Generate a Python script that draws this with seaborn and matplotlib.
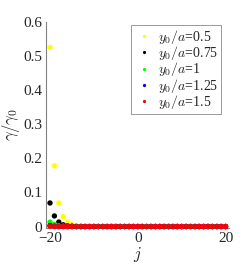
import matplotlib
matplotlib.use("Agg")
import matplotlib.pyplot as plt
import seaborn as sns
import pandas as pd

# data
j_values = list(range(-20, 21))
ratio_labels = ["0.5", "0.75", "1", "1.25", "1.5"]
colors = ["#ffff00", "#000000", "#00ff00", "#0000ff", "#ff0000"]

gamma_05 = [0.525, 0.178, 0.069, 0.029, 0.013, 0.006, 0.003, 0.001] + [0.0] * 33
gamma_075 = [0.069, 0.031, 0.013, 0.005, 0.002, 0.001] + [0.0] * 35
gamma_1 = [0.013, 0.006, 0.002, 0.001] + [0.0] * 37
gamma_125 = [0.003, 0.001] + [0.0] * 39
gamma_15 = [0.001] + [0.0] * 40

series = [gamma_05, gamma_075, gamma_1, gamma_125, gamma_15]

rows = []
for lab, vals in zip(ratio_labels, series):
    for j, g in zip(j_values, vals):
        rows.append({"j": j, "gamma": g, "ratio": r"$y_0/a$=" + lab})
df = pd.DataFrame(rows)

sns.set_style("white")
plt.rcParams["font.family"] = ["Liberation Serif", "DejaVu Serif"]
plt.rcParams["mathtext.fontset"] = "cm"

fig = plt.figure(figsize=(2.49, 2.70), dpi=100)
ax = fig.add_axes([0.185, 0.156, 0.735, 0.763])

sns.scatterplot(data=df, x="j", y="gamma", hue="ratio",
                palette=dict(zip(df["ratio"].unique(), colors)),
                s=15, linewidth=0, ax=ax, zorder=3, clip_on=False)

ax.set_xlim(-20.9, 20.8)
ax.set_ylim(-0.004, 0.6)
ax.set_xticks([-20, 0, 20])
ax.set_yticks([0, 0.1, 0.2, 0.3, 0.4, 0.5, 0.6])
ax.set_yticklabels(["0", "0.1", "0.2", "0.3", "0.4", "0.5", "0.6"])
ax.tick_params(direction="in", length=3, width=0.6, colors="#808080",
               labelcolor="#262626", labelsize=11, pad=3)
for side in ["top", "right"]:
    ax.spines[side].set_visible(False)
for side in ["left", "bottom"]:
    ax.spines[side].set_color("#808080")
    ax.spines[side].set_linewidth(0.8)

ax.set_xlabel(r"$j$", fontsize=12, labelpad=0)
ax.set_ylabel(r"$\gamma/\gamma_0$", fontsize=12, labelpad=1)

leg = ax.legend(loc="upper right", bbox_to_anchor=(0.956, 0.985),
                borderaxespad=0, fontsize=10, frameon=True, fancybox=False,
                edgecolor="#808080", handletextpad=0.3, borderpad=0.2,
                labelspacing=-0.12, handlelength=1.4, markerscale=0.6)
leg.get_frame().set_linewidth(0.7)

fig.savefig("out.png", dpi=100)
